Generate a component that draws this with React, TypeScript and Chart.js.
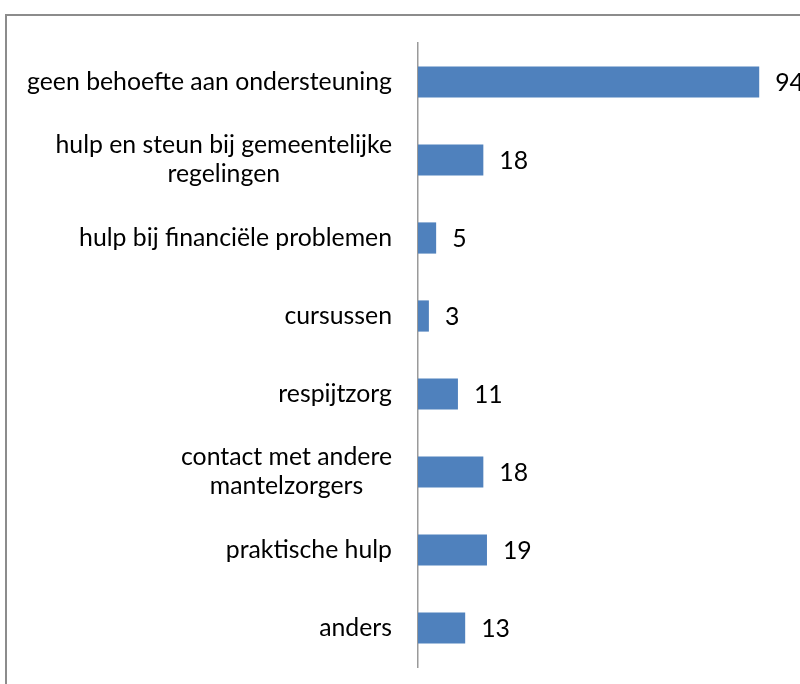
import React, { useEffect, useRef } from "react";
import { Chart, registerables } from "chart.js";

Chart.register(...registerables);

const categories: string[][] = [
  ["geen behoefte aan ondersteuning"],
  ["hulp en steun bij gemeentelijke", "regelingen"],
  ["hulp bij financiële problemen"],
  ["cursussen"],
  ["respijtzorg"],
  ["contact met andere", "mantelzorgers"],
  ["praktische hulp"],
  ["anders"],
];
const values: number[] = [94, 18, 5, 3, 11, 18, 19, 13];
const xMin = 0;
const xMax = 100;

const FONT = "Lato, 'Open Sans', sans-serif";
const FONT_SIZE = 24.8;

const labelPlugin = {
  id: "customLabels",
  afterDraw(chart: any) {
    const ctx = chart.ctx as CanvasRenderingContext2D;
    const yScale = chart.scales.y;
    const area = chart.chartArea;
    ctx.save();
    ctx.font = `${FONT_SIZE}px ${FONT}`;
    ctx.fillStyle = "#000";
    ctx.textBaseline = "middle";
    ctx.textAlign = "center";
    const lineH = 29;
    categories.forEach((lines, i) => {
      const yc = yScale.getPixelForValue(i);
      const maxW = Math.max(...lines.map((l) => ctx.measureText(l).width));
      const right = area.left - 26;
      const cx = right - maxW / 2;
      const y0 = yc - ((lines.length - 1) * lineH) / 2;
      lines.forEach((l, j) => ctx.fillText(l, cx, y0 + j * lineH));
    });
    const meta = chart.getDatasetMeta(0);
    ctx.textAlign = "left";
    meta.data.forEach((bar: any, i: number) => {
      ctx.fillText(String(values[i]), bar.x + 16, bar.y + 1);
    });
    ctx.restore();
  },
};

export default function App() {
  const ref = useRef<HTMLCanvasElement | null>(null);
  useEffect(() => {
    if (!ref.current) return;
    const chart = new Chart(ref.current, {
      type: "bar",
      data: {
        labels: categories.map((c) => c.join(" ")),
        datasets: [
          {
            data: values,
            backgroundColor: "#4F81BD",
            borderWidth: 0,
            categoryPercentage: 1,
            barPercentage: 0.4,
          },
        ],
      },
      options: {
        indexAxis: "y",
        animation: false,
        responsive: false,
        layout: { padding: { top: 43, bottom: 17, left: 0, right: 19 } },
        plugins: {
          legend: { display: false },
          tooltip: { enabled: false },
          title: { display: false },
        },
        scales: {
          x: { display: false, min: xMin, max: xMax },
          y: {
            afterFit: (s: any) => {
              s.width = 418;
            },
            ticks: { display: false },
            grid: { display: false, drawTicks: false },
            border: { display: true, color: "#9a9a9a", width: 1.5 },
          },
        },
      },
      plugins: [labelPlugin],
    });
    return () => chart.destroy();
  }, []);
  return (
    <div style={{ position: "absolute", left: 0, top: 0, width: 800, height: 684, overflow: "hidden", background: "#fff" }}>
      <div
        style={{
          position: "absolute",
          left: 5,
          top: 14,
          width: 820,
          height: 700,
          border: "2px solid #8c8c8c",
          boxSizing: "border-box",
        }}
      />
      <canvas ref={ref} width={800} height={684} style={{ position: "absolute", left: 0, top: 0, width: 800, height: 684 }} />
    </div>
  );
}
